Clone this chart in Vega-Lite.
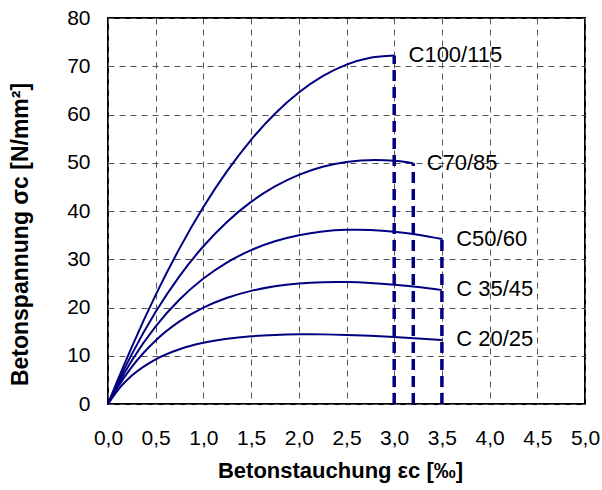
{
  "$schema": "https://vega.github.io/schema/vega-lite/v6.json",
  "width": 477,
  "height": 386,
  "autosize": {"type": "none"},
  "padding": {"left": 108, "top": 18, "right": 17, "bottom": 86},
  "background": "white",
  "config": {
    "font": "Liberation Sans",
    "view": {"stroke": "black", "strokeWidth": 2},
    "axis": {
      "domain": false,
      "ticks": false,
      "grid": true,
      "gridColor": "#555555",
      "gridDash": [6, 5],
      "gridWidth": 1,
      "labelFont": "Liberation Sans",
      "labelFontSize": 21,
      "labelColor": "black",
      "labelFlush": false,
      "titleFont": "Liberation Sans",
      "titleFontSize": 22,
      "titleFontWeight": "bold",
      "titleColor": "black"
    }
  },
  "datasets": {
    "curves": [
      {"grade": "C20/25", "eps": 0, "sigma": 0},
      {"grade": "C20/25", "eps": 0.1, "sigma": 2.79},
      {"grade": "C20/25", "eps": 0.25, "sigma": 5.89},
      {"grade": "C20/25", "eps": 0.5, "sigma": 9.27},
      {"grade": "C20/25", "eps": 0.75, "sigma": 11.36},
      {"grade": "C20/25", "eps": 1.0, "sigma": 12.68},
      {"grade": "C20/25", "eps": 1.25, "sigma": 13.52},
      {"grade": "C20/25", "eps": 1.5, "sigma": 14.04},
      {"grade": "C20/25", "eps": 1.75, "sigma": 14.32},
      {"grade": "C20/25", "eps": 2.0, "sigma": 14.44},
      {"grade": "C20/25", "eps": 2.1, "sigma": 14.45},
      {"grade": "C20/25", "eps": 2.25, "sigma": 14.43},
      {"grade": "C20/25", "eps": 2.5, "sigma": 14.32},
      {"grade": "C20/25", "eps": 2.75, "sigma": 14.14},
      {"grade": "C20/25", "eps": 3.0, "sigma": 13.89},
      {"grade": "C20/25", "eps": 3.25, "sigma": 13.59},
      {"grade": "C20/25", "eps": 3.5, "sigma": 13.25},
      {"grade": "C35/45", "eps": 0, "sigma": 0},
      {"grade": "C35/45", "eps": 0.1, "sigma": 3.41},
      {"grade": "C35/45", "eps": 0.25, "sigma": 7.70},
      {"grade": "C35/45", "eps": 0.5, "sigma": 13.17},
      {"grade": "C35/45", "eps": 0.75, "sigma": 17.11},
      {"grade": "C35/45", "eps": 1.0, "sigma": 19.96},
      {"grade": "C35/45", "eps": 1.25, "sigma": 22.01},
      {"grade": "C35/45", "eps": 1.5, "sigma": 23.44},
      {"grade": "C35/45", "eps": 1.75, "sigma": 24.40},
      {"grade": "C35/45", "eps": 2.0, "sigma": 24.97},
      {"grade": "C35/45", "eps": 2.25, "sigma": 25.25},
      {"grade": "C35/45", "eps": 2.4, "sigma": 25.29},
      {"grade": "C35/45", "eps": 2.5, "sigma": 25.27},
      {"grade": "C35/45", "eps": 2.75, "sigma": 25.09},
      {"grade": "C35/45", "eps": 3.0, "sigma": 24.73},
      {"grade": "C35/45", "eps": 3.25, "sigma": 24.23},
      {"grade": "C35/45", "eps": 3.5, "sigma": 23.60},
      {"grade": "C50/60", "eps": 0, "sigma": 0},
      {"grade": "C50/60", "eps": 0.1, "sigma": 3.86},
      {"grade": "C50/60", "eps": 0.25, "sigma": 9.00},
      {"grade": "C50/60", "eps": 0.5, "sigma": 16.08},
      {"grade": "C50/60", "eps": 0.75, "sigma": 21.65},
      {"grade": "C50/60", "eps": 1.0, "sigma": 26.00},
      {"grade": "C50/60", "eps": 1.25, "sigma": 29.36},
      {"grade": "C50/60", "eps": 1.5, "sigma": 31.89},
      {"grade": "C50/60", "eps": 1.75, "sigma": 33.73},
      {"grade": "C50/60", "eps": 2.0, "sigma": 34.99},
      {"grade": "C50/60", "eps": 2.25, "sigma": 35.76},
      {"grade": "C50/60", "eps": 2.5, "sigma": 36.10},
      {"grade": "C50/60", "eps": 2.6, "sigma": 36.13},
      {"grade": "C50/60", "eps": 2.75, "sigma": 36.06},
      {"grade": "C50/60", "eps": 3.0, "sigma": 35.71},
      {"grade": "C50/60", "eps": 3.25, "sigma": 35.07},
      {"grade": "C50/60", "eps": 3.5, "sigma": 34.18},
      {"grade": "C70/85", "eps": 0, "sigma": 0},
      {"grade": "C70/85", "eps": 0.1, "sigma": 4.33},
      {"grade": "C70/85", "eps": 0.25, "sigma": 10.33},
      {"grade": "C70/85", "eps": 0.5, "sigma": 19.11},
      {"grade": "C70/85", "eps": 0.75, "sigma": 26.51},
      {"grade": "C70/85", "eps": 1.0, "sigma": 32.69},
      {"grade": "C70/85", "eps": 1.25, "sigma": 37.78},
      {"grade": "C70/85", "eps": 1.5, "sigma": 41.88},
      {"grade": "C70/85", "eps": 1.75, "sigma": 45.08},
      {"grade": "C70/85", "eps": 2.0, "sigma": 47.49},
      {"grade": "C70/85", "eps": 2.25, "sigma": 49.16},
      {"grade": "C70/85", "eps": 2.5, "sigma": 50.17},
      {"grade": "C70/85", "eps": 2.65, "sigma": 50.47},
      {"grade": "C70/85", "eps": 2.8, "sigma": 50.58},
      {"grade": "C70/85", "eps": 3.0, "sigma": 50.40},
      {"grade": "C70/85", "eps": 3.2, "sigma": 49.91},
      {"grade": "C100/115", "eps": 0, "sigma": 0},
      {"grade": "C100/115", "eps": 0.1, "sigma": 4.88},
      {"grade": "C100/115", "eps": 0.25, "sigma": 11.86},
      {"grade": "C100/115", "eps": 0.5, "sigma": 22.61},
      {"grade": "C100/115", "eps": 0.75, "sigma": 32.25},
      {"grade": "C100/115", "eps": 1.0, "sigma": 40.82},
      {"grade": "C100/115", "eps": 1.25, "sigma": 48.31},
      {"grade": "C100/115", "eps": 1.5, "sigma": 54.75},
      {"grade": "C100/115", "eps": 1.75, "sigma": 60.16},
      {"grade": "C100/115", "eps": 2.0, "sigma": 64.55},
      {"grade": "C100/115", "eps": 2.25, "sigma": 67.94},
      {"grade": "C100/115", "eps": 2.5, "sigma": 70.35},
      {"grade": "C100/115", "eps": 2.75, "sigma": 71.78},
      {"grade": "C100/115", "eps": 3.0, "sigma": 72.25}
    ],
    "ends": [
      {"eps": 3.0, "base": 0, "sigma": 72.25},
      {"eps": 3.2, "base": 0, "sigma": 49.91},
      {"eps": 3.5, "base": 0, "sigma": 34.18}
    ],
    "labels": [
      {"label": "C100/115", "eps": 3.15, "sigma": 72.4},
      {"label": "C70/85", "eps": 3.34, "sigma": 50.0},
      {"label": "C50/60", "eps": 3.65, "sigma": 34.2},
      {"label": "C 35/45", "eps": 3.65, "sigma": 23.8},
      {"label": "C 20/25", "eps": 3.65, "sigma": 13.4}
    ]
  },
  "layer": [
    {
      "data": {"name": "curves"},
      "mark": {"type": "line", "color": "#000080", "strokeWidth": 2, "interpolate": "monotone"},
      "encoding": {
        "x": {
          "field": "eps", "type": "quantitative",
          "scale": {"domain": [0, 5], "nice": false},
          "axis": {
            "values": [0, 0.5, 1, 1.5, 2, 2.5, 3, 3.5, 4, 4.5, 5],
            "labelExpr": "replace(format(datum.value, '.1f'), '.', ',')",
            "labelPadding": 23,
            "titlePadding": 12,
            "titleX": 232,
            "title": "Betonstauchung εc [‰]"
          }
        },
        "y": {
          "field": "sigma", "type": "quantitative",
          "scale": {"domain": [0, 80], "nice": false},
          "axis": {
            "values": [0, 10, 20, 30, 40, 50, 60, 70, 80],
            "labelPadding": 18,
            "titlePadding": 34,
            "titleY": 216,
            "titleFontSize": 23,
            "title": "Betonspannung σc [N/mm²]"
          }
        },
        "detail": {"field": "grade", "type": "nominal"}
      }
    },
    {
      "data": {"name": "ends"},
      "mark": {"type": "rule", "color": "#000080", "strokeWidth": 3.5, "strokeDash": [11, 6]},
      "encoding": {
        "x": {"field": "eps", "type": "quantitative"},
        "y": {"field": "base", "type": "quantitative"},
        "y2": {"field": "sigma"}
      }
    },
    {
      "data": {"name": "labels"},
      "mark": {"type": "text", "align": "left", "baseline": "middle", "fontSize": 22, "font": "Liberation Sans", "color": "black"},
      "encoding": {
        "x": {"field": "eps", "type": "quantitative"},
        "y": {"field": "sigma", "type": "quantitative"},
        "text": {"field": "label"}
      }
    }
  ]
}
